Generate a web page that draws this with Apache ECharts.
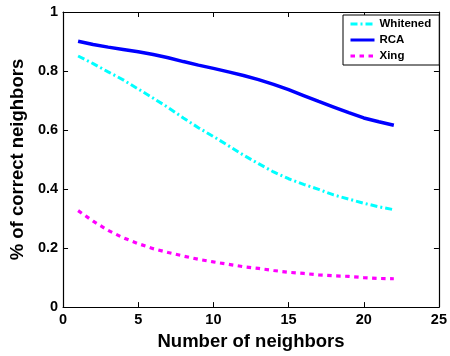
<!DOCTYPE html>
<html>
<head>
<meta charset="utf-8">
<script src="https://cdn.jsdelivr.net/npm/echarts@6/dist/echarts.min.js"></script>
<style>
html,body{margin:0;padding:0;background:#fff;}
#chart{width:450px;height:356px;}
</style>
</head>
<body>
<div id="chart"></div>
<script>
var neighbors = [1,2,3,4,5,6,7,8,9,10,11,12,13,14,15,16,17,18,19,20,21,22];
var whitened = [0.851,0.825,0.797,0.770,0.739,0.708,0.676,0.641,0.608,0.578,0.547,0.515,0.486,0.458,0.435,0.416,0.399,0.380,0.366,0.352,0.340,0.330];
var rca      = [0.901,0.890,0.881,0.873,0.865,0.856,0.845,0.832,0.820,0.809,0.797,0.785,0.771,0.755,0.737,0.717,0.697,0.678,0.659,0.641,0.628,0.616];
var xing     = [0.327,0.291,0.260,0.235,0.215,0.198,0.185,0.173,0.162,0.153,0.145,0.137,0.131,0.124,0.118,0.114,0.109,0.106,0.104,0.100,0.097,0.096];
var xTicks = [0,5,10,15,20,25];
var yTicks = [0,0.2,0.4,0.6,0.8,1];

function pairs(ys){ return neighbors.map(function(x,i){ return [x, ys[i]]; }); }

var FONT = '"Liberation Sans", Arial, Helvetica, sans-serif';
var chart = echarts.init(document.getElementById('chart'), null, {renderer:'canvas'});

function axisBase(show){
  return {
    axisLine:{show:true, onZero:false, lineStyle:{color:'#000', width:1.2}},
    axisTick:{show:true, inside:true, length:5, lineStyle:{color:'#000', width:1}},
    splitLine:{show:false},
    axisLabel:{show:show, color:'#000', fontFamily:FONT, fontWeight:'bold', fontSize:14.5, margin:5}
  };
}

var option = {
  animation:false,
  backgroundColor:'#fff',
  grid:{left:61, right:8, top:12, bottom:45},
  xAxis:[
    Object.assign(axisBase(true), {
      type:'value', position:'bottom', min:xTicks[0], max:xTicks[xTicks.length-1], interval:5,
      name:'Number of neighbors', nameLocation:'middle', nameGap:19,
      nameTextStyle:{color:'#000', fontFamily:FONT, fontWeight:'bold', fontSize:18.5}
    }),
    Object.assign(axisBase(false), {
      type:'value', position:'top', min:xTicks[0], max:xTicks[xTicks.length-1], interval:5
    })
  ],
  yAxis:[
    Object.assign(axisBase(true), {
      type:'value', position:'left', min:yTicks[0], max:yTicks[yTicks.length-1], interval:0.2,
      name:'% of correct neighbors', nameLocation:'middle', nameGap:27, nameRotate:90,
      nameTextStyle:{color:'#000', fontFamily:FONT, fontWeight:'bold', fontSize:18.5}
    }),
    Object.assign(axisBase(false), {
      type:'value', position:'right', min:yTicks[0], max:yTicks[yTicks.length-1], interval:0.2
    })
  ],
  legend:{
    orient:'vertical', left:343, top:15, width:95,
    padding:[3,8,3,6], itemGap:4, itemWidth:24, itemHeight:10,
    borderColor:'#000', borderWidth:1, backgroundColor:'#fff',
    itemStyle:{opacity:0},
    lineStyle:{width:3},
    textStyle:{color:'#000', fontFamily:FONT, fontWeight:'bold', fontSize:11.5, lineHeight:12},
    data:['Whitened','RCA','Xing']
  },
  series:[
    {name:'Whitened', type:'line', data:pairs(whitened), showSymbol:false, symbol:'none', smooth:false,
     lineStyle:{color:'#00ffff', width:3, type:[7,3,2,3]}, itemStyle:{color:'#00ffff'}},
    {name:'RCA', type:'line', data:pairs(rca), showSymbol:false, symbol:'none',
     lineStyle:{color:'#0000ff', width:3.5, type:'solid'}, itemStyle:{color:'#0000ff'}},
    {name:'Xing', type:'line', data:pairs(xing), showSymbol:false, symbol:'none',
     lineStyle:{color:'#ff00ff', width:3.2, type:[4.5,4.5]}, itemStyle:{color:'#ff00ff'}}
  ]
};
chart.setOption(option);
</script>
</body>
</html>
